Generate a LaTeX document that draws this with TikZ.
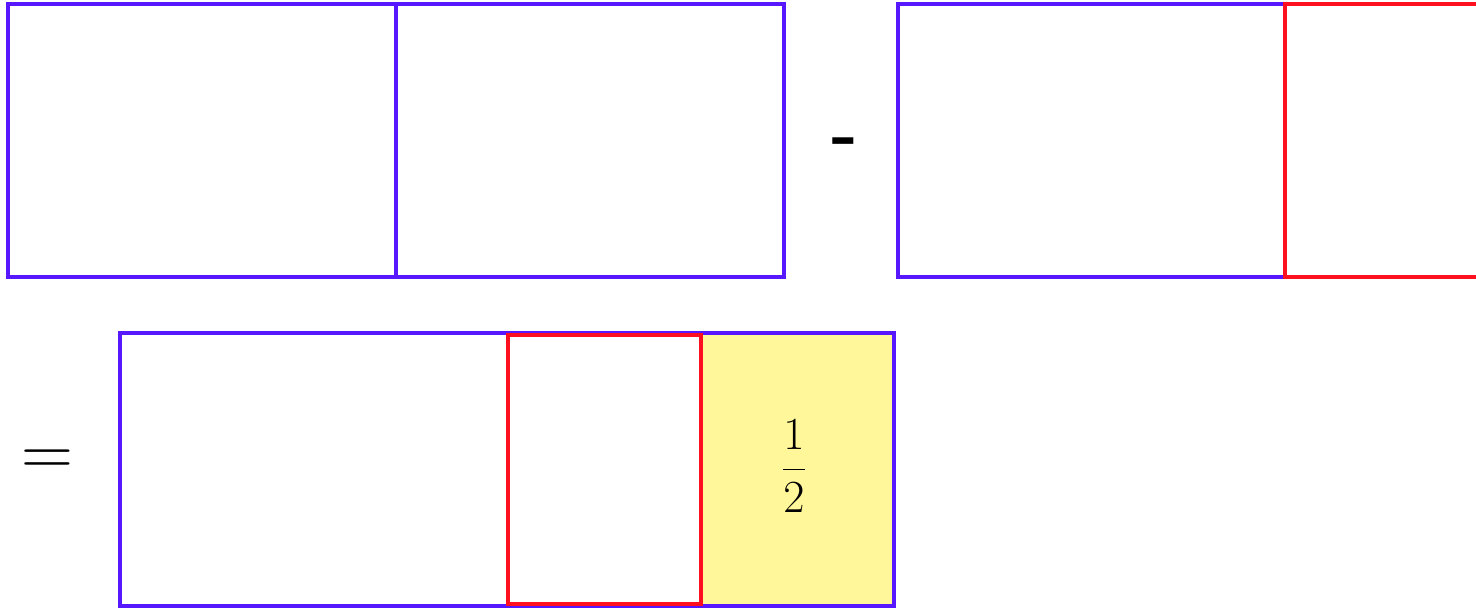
\documentclass[tikz,border=0pt]{standalone}
\usepackage{fix-cm}
\usepackage{fontspec}
\newfontfamily\calib{Carlito}
\definecolor{bblue}{RGB}{88,24,255}
\definecolor{rred}{RGB}{255,16,32}
\definecolor{yfill}{RGB}{255,247,153}
\tikzset{
  bline/.style={draw=bblue, line width=3.6pt},
  rline/.style={draw=rred, line width=3.6pt},
  sym/.style={inner sep=0pt, text=black}
}
\begin{document}
\begin{tikzpicture}[x=1pt,y=-1pt]
\useasboundingbox (0,0) rectangle (1476,610);
\begin{scope}
\clip (0,0) rectangle (1476,610);
% top-left whole
\draw[bline] (8,4) rectangle (784,277);
\draw[bline] (396,4) -- (396,277);
% minus
\node[sym, font=\calib\fontsize{90}{90}\selectfont] (minus) at (843,152) {-};
% top-right
\draw[bline] (1285,4) -- (898,4) -- (898,277) -- (1285,277);
\draw[rline] (1490,4) -- (1285,4) -- (1285,277) -- (1490,277);
% equals
\node[sym, font=\fontsize{72}{72}\selectfont] (eq) at (47,463) {$=$};
% bottom
\fill[yfill] (701,333) rectangle (894,606);
\draw[bline] (120,333) rectangle (894,606);
\draw[rline] (508,335) rectangle (701,604);
\node[sym, font=\fontsize{46}{46}\selectfont] (half) at (794,466) {$\displaystyle\frac{1}{2}$};
\end{scope}
\end{tikzpicture}
\end{document}
